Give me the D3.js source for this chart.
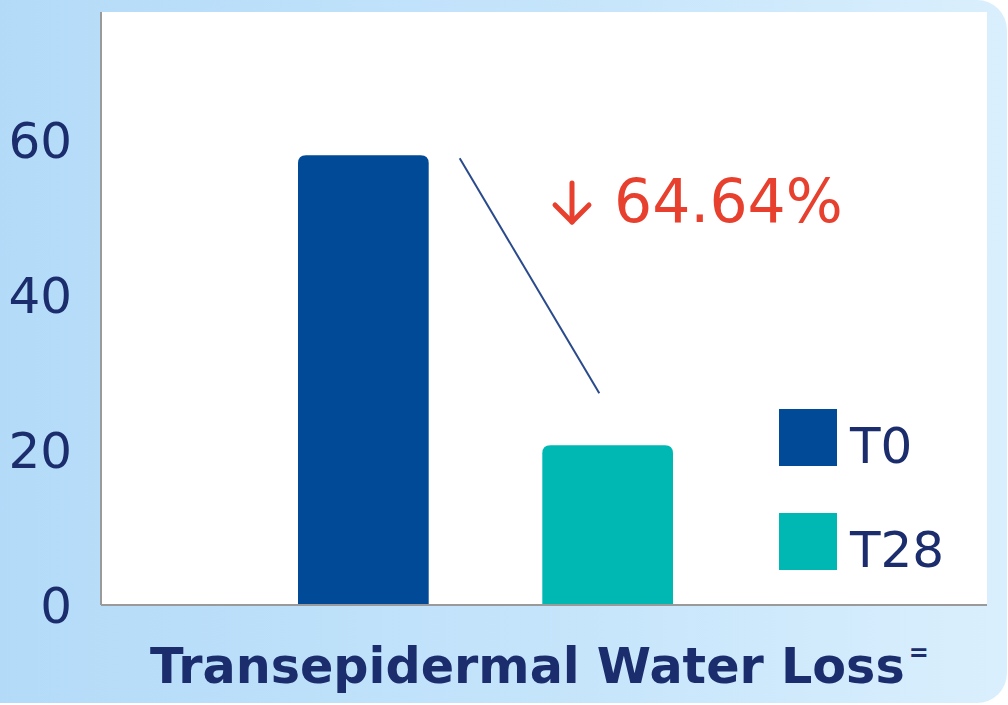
<!DOCTYPE html>
<html>
<head>
<meta charset="utf-8">
<script src="https://cdnjs.cloudflare.com/ajax/libs/d3/7.8.5/d3.min.js"></script>
<style>
  body { margin: 0; background: #ffffff; }
  svg { display: block; }
</style>
</head>
<body>
<div id="chart"></div>
<script>
// data
var groups = ["T0", "T28"];
var values = [57.9, 20.5];
var yTicks = [0, 20, 40, 60];
var changeLabel = "64.64%";
var axisTitle = "Transepidermal Water Loss";

var colors = { T0: "#004a97", T28: "#00b8b3" };
var navy = "#1b2d6c";

var W = 1008, H = 705;
var svg = d3.select("#chart").append("svg").attr("width", W).attr("height", H);

// background card with gradient
var defs = svg.append("defs");
var grad = defs.append("linearGradient").attr("id", "bg").attr("x1", "0").attr("x2", "1").attr("y1", "0").attr("y2", "0");
grad.append("stop").attr("offset", "0").attr("stop-color", "#b2daf8");
grad.append("stop").attr("offset", "0.6").attr("stop-color", "#c6e5fb");
grad.append("stop").attr("offset", "1").attr("stop-color", "#daeffd");

svg.append("rect")
  .attr("x", -40).attr("y", 0).attr("width", 1047).attr("height", 703)
  .attr("rx", 30).attr("ry", 30)
  .style("fill", "url(#bg)");

// plot area
var plot = { left: 101, right: 987, top: 12, bottom: 604 };

svg.append("rect")
  .attr("x", plot.left).attr("y", plot.top)
  .attr("width", plot.right - plot.left).attr("height", plot.bottom - plot.top)
  .style("fill", "#ffffff");

var y = d3.scaleLinear().domain([0, 76.4]).range([plot.bottom, plot.top]);
var x = d3.scaleBand().domain(groups).range([298, 673]).paddingInner(0.465).paddingOuter(0);

// y axis labels
var yAxis = svg.append("g")
  .attr("transform", "translate(" + plot.left + ",0)")
  .call(d3.axisLeft(y).tickValues(yTicks).tickSize(0).tickPadding(29));
yAxis.select(".domain").remove();
yAxis.selectAll("text")
  .attr("dy", "0.36em")
  .style("font-family", "DejaVu Sans")
  .style("font-size", "50px")
  .style("fill", navy);

// bars with rounded tops
var r = 8;
svg.selectAll(".bar")
  .data(groups)
  .enter()
  .append("path")
    .attr("class", "bar")
    .attr("d", function (d, i) {
      var x0 = x(d), x1 = x(d) + x.bandwidth(), yt = y(values[i]), yb = y(0);
      return "M" + x0 + "," + yb +
        "V" + (yt + r) +
        "Q" + x0 + "," + yt + " " + (x0 + r) + "," + yt +
        "H" + (x1 - r) +
        "Q" + x1 + "," + yt + " " + x1 + "," + (yt + r) +
        "V" + yb + "Z";
    })
    .style("fill", function (d) { return colors[d]; });

// axis lines
svg.append("line")
  .attr("x1", plot.left).attr("x2", plot.left)
  .attr("y1", plot.top).attr("y2", plot.bottom + 1)
  .style("stroke", "#9a9a9a").style("stroke-width", 2);
svg.append("line")
  .attr("x1", plot.left).attr("x2", plot.right)
  .attr("y1", plot.bottom + 1).attr("y2", plot.bottom + 1)
  .style("stroke", "#9a9a9a").style("stroke-width", 2);

// connector line between the bars
svg.append("line")
  .attr("x1", x("T0") + x.bandwidth() + 31).attr("y1", y(values[0]) + 3)
  .attr("x2", x("T28") + 57).attr("y2", y(values[1]) - 52)
  .style("stroke", "#2a4a8c").style("stroke-width", 2);

// change annotation: arrow + percentage
var red = "#e8402e";
var arrow = svg.append("g")
  .attr("transform", "translate(572,0)")
  .style("fill", "none")
  .style("stroke", red)
  .style("stroke-width", 5)
  .style("stroke-linecap", "round")
  .style("stroke-linejoin", "round");
arrow.append("path").attr("d", "M0,183V222");
arrow.append("path").attr("d", "M-17,205L0,222L17,205");

svg.append("text")
  .attr("x", 614).attr("y", 222)
  .style("font-family", "DejaVu Sans")
  .style("font-size", "60px")
  .style("fill", red)
  .text(changeLabel);

// legend
var legend = svg.selectAll(".legend")
  .data(groups)
  .enter()
  .append("g")
    .attr("class", "legend")
    .attr("transform", function (d, i) { return "translate(779," + (409 + i * 104) + ")"; });
legend.append("rect")
  .attr("width", 58).attr("height", 57)
  .style("fill", function (d) { return colors[d]; });
legend.append("text")
  .attr("x", 71).attr("y", 54)
  .style("font-family", "DejaVu Sans")
  .style("font-size", "50px")
  .style("fill", navy)
  .text(function (d) { return d; });

// x axis title
var title = svg.append("text")
  .attr("x", 150).attr("y", 683)
  .style("font-family", "DejaVu Sans")
  .style("font-weight", "bold")
  .style("font-size", "50px")
  .style("fill", navy);
var main = title.append("tspan").text(axisTitle);
// squeeze the title to the width it has in the picture
var len = main.node().getComputedTextLength();
title.style("font-size", (50 * 755 / len) + "px");
title.append("tspan")
  .attr("dx", 4).attr("dy", -22)
  .style("font-size", "24px")
  .text("=");
</script>
</body>
</html>
